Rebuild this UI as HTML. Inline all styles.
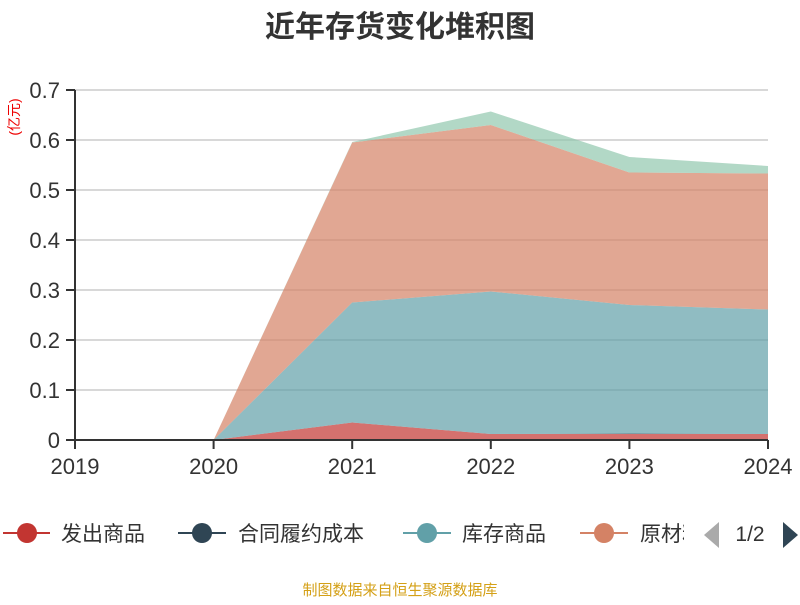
<!DOCTYPE html>
<html><head><meta charset="utf-8"><style>
body{margin:0;background:#fff;}
svg text{font-family:"Liberation Sans","Noto Sans CJK SC",sans-serif;}
</style></head><body>
<svg width="800" height="600" viewBox="0 0 800 600">
<text x="400" y="37" text-anchor="middle" font-size="30" font-weight="bold" fill="#333">近年存货变化堆积图</text>
<text transform="translate(19,117) rotate(-90)" text-anchor="middle" font-size="14" fill="#e00">(亿元)</text>
<g id="grid"></g><g id="areas"></g><g id="axes"></g>
<g>
<g><line x1="3" y1="533" x2="50" y2="533" stroke="#c23531" stroke-width="2"/><circle cx="27" cy="533" r="10" fill="#c23531"/><text x="61" y="541" font-size="21" fill="#333">发出商品</text></g>
<g><line x1="178" y1="533" x2="226" y2="533" stroke="#2f4554" stroke-width="2"/><circle cx="202" cy="533" r="10" fill="#2f4554"/><text x="238" y="541" font-size="21" fill="#333">合同履约成本</text></g>
<g><line x1="403" y1="533" x2="451" y2="533" stroke="#61a0a8" stroke-width="2"/><circle cx="427" cy="533" r="10" fill="#61a0a8"/><text x="462" y="541" font-size="21" fill="#333">库存商品</text></g>
<g><line x1="580" y1="533" x2="628" y2="533" stroke="#d48265" stroke-width="2"/><circle cx="604" cy="533" r="10" fill="#d48265"/><svg x="630" y="510" width="54" height="40" overflow="hidden"><text x="10" y="31" font-size="21" fill="#333">原材料</text></svg></g>
<polygon points="719,522 719,548 704,535" fill="#aaa"/>
<text x="750" y="541" text-anchor="middle" font-size="21" fill="#333">1/2</text>
<polygon points="783,522 783,548 798,535" fill="#2f4554"/>
</g>
<text x="400" y="595" text-anchor="middle" font-size="15" fill="#d4a017">制图数据来自恒生聚源数据库</text>
</svg>
<script>
const years=["2019","2020","2021","2022","2023","2024"];
const fachu=[0,0,0.035,0.012,0.012,0.012];
const hetong=[0,0,0,0,0.001,0];
const kucun=[0,0,0.240,0.285,0.257,0.249];
const yuancailiao=[0,0,0.320,0.333,0.265,0.272];
const other=[0,0,0.001,0.027,0.031,0.015];
const yTicks=[0,0.1,0.2,0.3,0.4,0.5,0.6,0.7];
const yTickLabels=["0","0.1","0.2","0.3","0.4","0.5","0.6","0.7"];
const NS="http://www.w3.org/2000/svg";
const x=i=>75+i*(768-75)/(years.length-1);
const y=v=>440-v*500;
function mk(t,a,p){const e=document.createElementNS(NS,t);for(const k in a)e.setAttribute(k,a[k]);p.appendChild(e);return e;}
const grid=document.getElementById('grid'),areas=document.getElementById('areas'),axes=document.getElementById('axes');
yTicks.forEach((v,i)=>{
 if(v>0){const g=mk('line',{x1:75,x2:768,y1:y(v),y2:y(v),stroke:'#ccc','stroke-width':1.5},grid);
 
 }
 const tk=mk('line',{x1:66,x2:75,y1:y(v),y2:y(v),stroke:'#333','stroke-width':2},axes);
 
 
 const t=mk('text',{x:60,y:y(v)+8,'text-anchor':'end','font-size':22,fill:'#333'},axes);t.textContent=yTickLabels[i];
 
 
});
const series=[[fachu,'#c23531','area-fachu'],[hetong,'#2f4554','area-hetong'],[kucun,'#61a0a8','area-kucun'],[yuancailiao,'#d48265','area-yuancailiao'],[other,'#91c7ae','area-other']];
let base=years.map(()=>0);
series.forEach(([d,c,n])=>{
 const top=base.map((b,i)=>b+d[i]);
 let pts=top.map((v,i)=>x(i)+','+y(v));
 for(let i=years.length-1;i>=0;i--)pts.push(x(i)+','+y(base[i]));
 const p=mk('polygon',{points:pts.join(' '),fill:c,'fill-opacity':0.7},areas);
 
 
 base=top;
});
const ax=mk('line',{x1:75,x2:75,y1:90,y2:440,stroke:'#333','stroke-width':2},axes);


const xa=mk('line',{x1:75,x2:768,y1:440,y2:440,stroke:'#333','stroke-width':2},axes);


years.forEach((yr,i)=>{
 const tk=mk('line',{x1:x(i),x2:x(i),y1:440,y2:449,stroke:'#333','stroke-width':2},axes);
 
 
 const t=mk('text',{x:x(i),y:474,'text-anchor':'middle','font-size':22,fill:'#333'},axes);t.textContent=yr;
 
 
});
</script>
</body></html>
